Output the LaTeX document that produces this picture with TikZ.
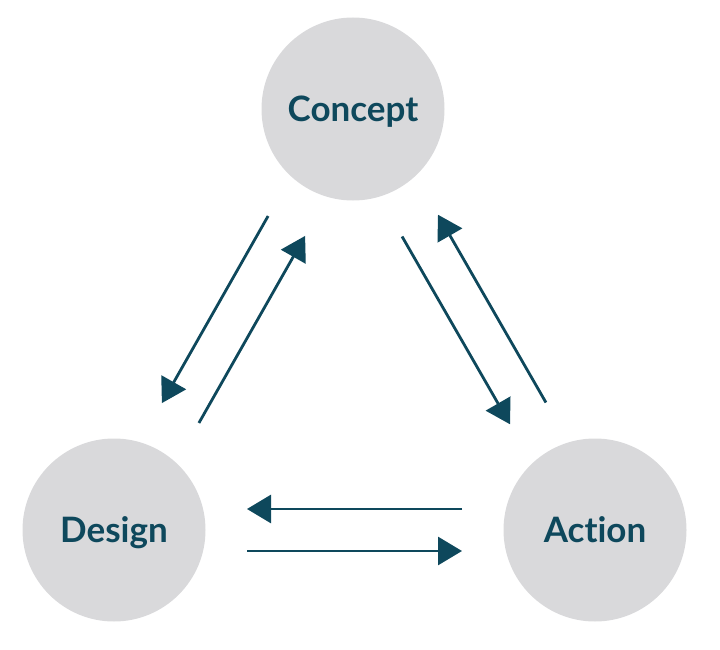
\documentclass[tikz,border=0pt]{standalone}
\usepackage{fontspec}
\setmainfont{Lato}[Ligatures=NoCommon]
\definecolor{CircleGray}{RGB}{217,217,219}
\definecolor{DeepTeal}{RGB}{14,72,92}
\usepackage{tikz}
\usetikzlibrary{arrows.meta, calc}

\begin{document}
\begin{tikzpicture}[x=1pt, y=-1pt,
	stage/.style={circle, fill=CircleGray, minimum size=183pt, inner sep=0pt,
		text=DeepTeal, font=\fontsize{35}{38}\selectfont\bfseries,
		text height=25pt, text depth=0pt},
	flow/.style={draw=DeepTeal, line width=2.8pt,
		-{Triangle[length=24pt, width=28pt]}}]
	\useasboundingbox (0,0) rectangle (720,650);

	\node[stage] (concept) at (353,109) {Concept};
	\node[stage] (design) at (114,530) {Design};
	\node[stage] (action) at (595,530) {Action};

	% paired flows, each one on the right of its direction
	\draw[flow] ($(concept)!135pt!(design)!21pt!-90:(design)$) -- ($(design)!134pt!(concept)!21pt!90:(concept)$);
	\draw[flow] ($(design)!135pt!(concept)!21pt!-90:(concept)$) -- ($(concept)!134pt!(design)!21pt!90:(design)$);
	\draw[flow] ($(concept)!135pt!(action)!21pt!-90:(action)$) -- ($(action)!134pt!(concept)!21pt!90:(concept)$);
	\draw[flow] ($(action)!135pt!(concept)!21pt!-90:(concept)$) -- ($(concept)!134pt!(action)!21pt!90:(action)$);
	\draw[flow] ($(action)!133pt!(design)!21pt!-90:(design)$) -- ($(design)!133pt!(action)!21pt!90:(action)$);
	\draw[flow] ($(design)!133pt!(action)!21pt!-90:(action)$) -- ($(action)!133pt!(design)!21pt!90:(design)$);
\end{tikzpicture}
\end{document}
